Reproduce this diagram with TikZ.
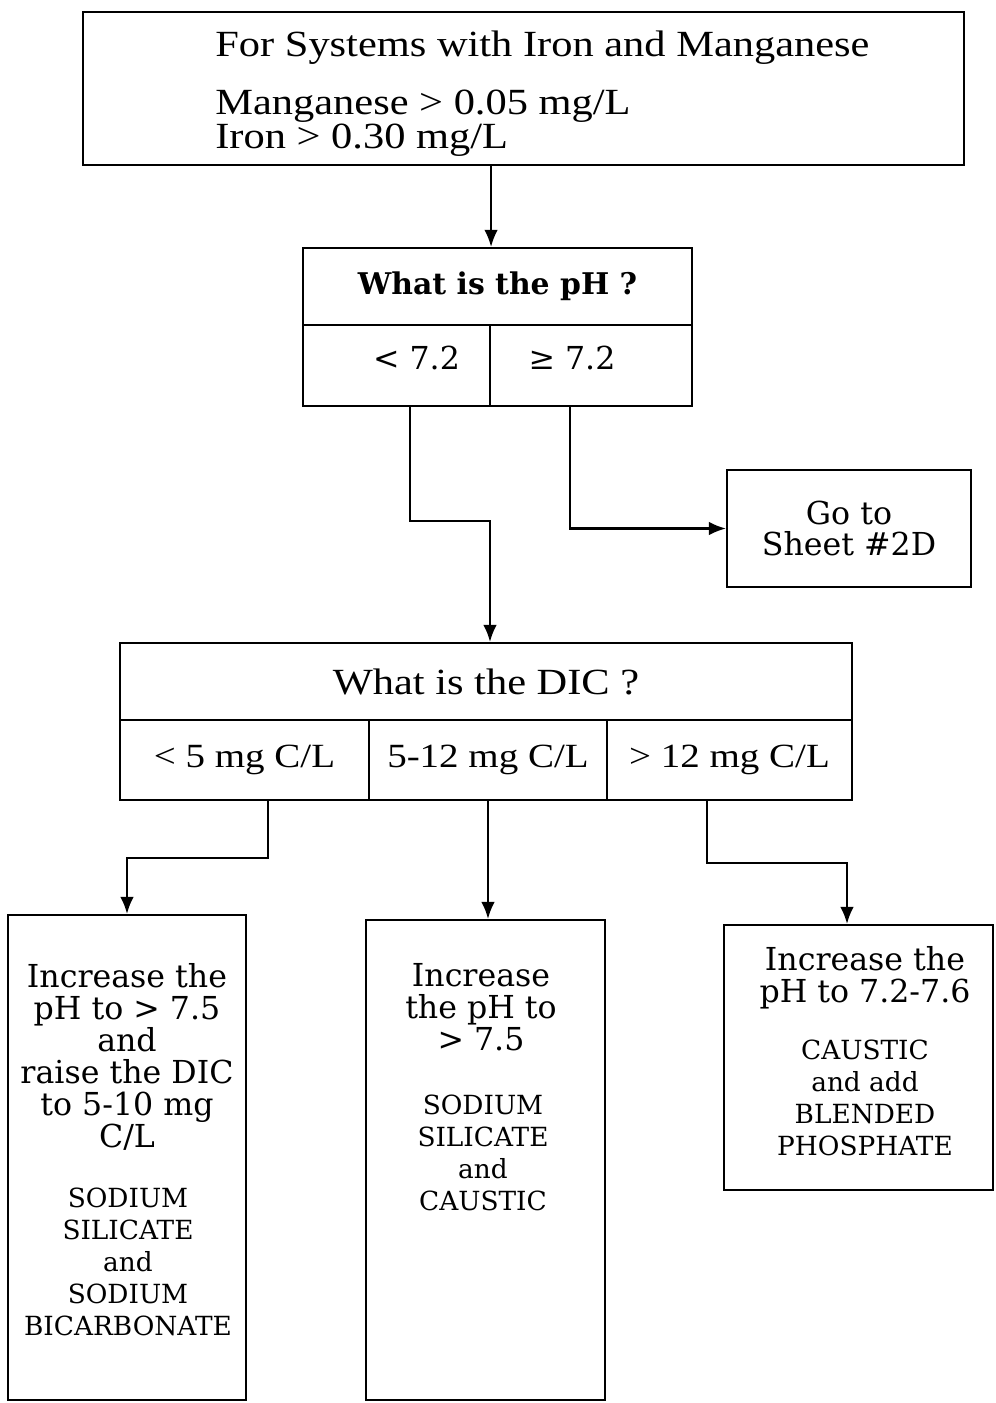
\documentclass[tikz,border=0pt]{standalone}
\usepackage{fontspec}
\setmainfont{Liberation Serif}
\newfontfamily\wideserif[FakeStretch=1.15]{Liberation Serif}
\newfontfamily\schfont{DejaVu Serif}
\usetikzlibrary{arrows.meta,positioning,calc}
\newcommand\tightlines{\lineskiplimit=-100pt\relax}

\begin{document}
\begin{tikzpicture}[
    >={Latex[length=3.4mm,width=2.7mm]},
    box/.style={draw, line width=1.2pt, inner sep=0pt, align=center},
    qfont/.style={font=\wideserif\fontsize{19.3}{17}\selectfont\tightlines},
    topfont/.style={font=\wideserif\fontsize{21}{19}\selectfont\tightlines},
    schq/.style={font=\schfont\bfseries\fontsize{17}{20}\selectfont},
    sfont/.style={font=\schfont\fontsize{18}{18.2}\selectfont\tightlines},
    capsfont/.style={font=\schfont\fontsize{15}{18.2}\selectfont\tightlines},
    txt/.style={anchor=north, inner sep=0pt, align=center},
    link/.style={->, line width=1.2pt}
]
\useasboundingbox (0,0) rectangle (19.92,-28.06);

\node[box, minimum width=17.62cm, minimum height=3.06cm] (top) at (10.47,-1.77) {};
\node[topfont, anchor=north west, inner sep=0pt, align=left] (toptxt) at (4.3,-0.62)
    {For Systems with Iron and Manganese\\[14pt]Manganese > 0.05 mg/L\\Iron > 0.30 mg/L};

\node[box, schq, minimum width=7.78cm, minimum height=1.54cm] (phq) at (9.95,-5.73) {What is the pH ?};
\node[box, sfont, minimum width=3.74cm, minimum height=1.62cm] (phlo) at (7.93,-7.31) {\hspace*{0.8cm}< 7.2\rule[-0.3cm]{0pt}{0pt}};
\node[box, sfont, minimum width=4.04cm, minimum height=1.62cm] (phhi) at (11.82,-7.31) {≥ 7.2\hspace*{0.76cm}\rule[-0.3cm]{0pt}{0pt}};

\node[box, font=\schfont\fontsize{18}{18}\selectfont\tightlines, minimum width=4.88cm, minimum height=2.34cm] (goto) at (16.98,-10.57) {Go to\\Sheet \#2D};

\node[box, font=\wideserif\fontsize{21}{17}\selectfont, minimum width=14.64cm, minimum height=1.54cm] (dicq) at (9.72,-13.63) {What is the DIC ?};
\node[box, qfont, minimum width=4.98cm, minimum height=1.6cm] (diclo) at (4.89,-15.2) {< 5 mg C/L};
\node[box, qfont, minimum width=4.76cm, minimum height=1.6cm] (dicmid) at (9.76,-15.2) {5-12 mg C/L};
\node[box, qfont, minimum width=4.9cm, minimum height=1.6cm] (dichi) at (14.59,-15.2) {> 12 mg C/L};

\node[box, minimum width=4.76cm, minimum height=9.7cm] (act1) at (2.54,-23.15) {};
\node[sfont, txt] (act1txt) at (2.54,-19.26) {Increase the\\pH to > 7.5\\and\\raise the DIC\\to 5-10 mg\\C/L};
\node[capsfont, txt] (act1chem) at (2.56,-23.76) {SODIUM\\SILICATE\\and\\SODIUM\\BICARBONATE};

\node[box, minimum width=4.78cm, minimum height=9.6cm] (act2) at (9.71,-23.2) {};
\node[sfont, txt] (act2txt) at (9.62,-19.26) {Increase\\the pH to\\> 7.5};
\node[capsfont, txt] (act2chem) at (9.66,-21.9) {SODIUM\\SILICATE\\and\\CAUSTIC};

\node[box, minimum width=5.38cm, minimum height=5.3cm] (act3) at (17.17,-21.15) {};
\node[sfont, txt] (act3txt) at (17.3,-18.92) {Increase the\\pH to 7.2-7.6};
\node[capsfont, txt] (act3chem) at (17.3,-20.8) {CAUSTIC\\and add\\BLENDED\\PHOSPHATE};

\draw[link] (top.south -| phlo.east) -- (phq.north -| phlo.east);
\draw[link] ([xshift=0.27cm]phlo.south) -- ++(0,-2.28) -| ([xshift=0.08cm]dicq.north);
\draw[link] ([xshift=-0.42cm]phhi.south) |- (goto.west);
\draw[link] ([xshift=0.47cm]diclo.south) -- ++(0,-1.14) -| (act1.north);
\draw[link] (dicmid.south) -- (act2.north -| dicmid.south);
\draw[link] ([xshift=-0.45cm]dichi.south) -- ++(0,-1.24) -| ([xshift=-0.23cm]act3.north);
\end{tikzpicture}
\end{document}
